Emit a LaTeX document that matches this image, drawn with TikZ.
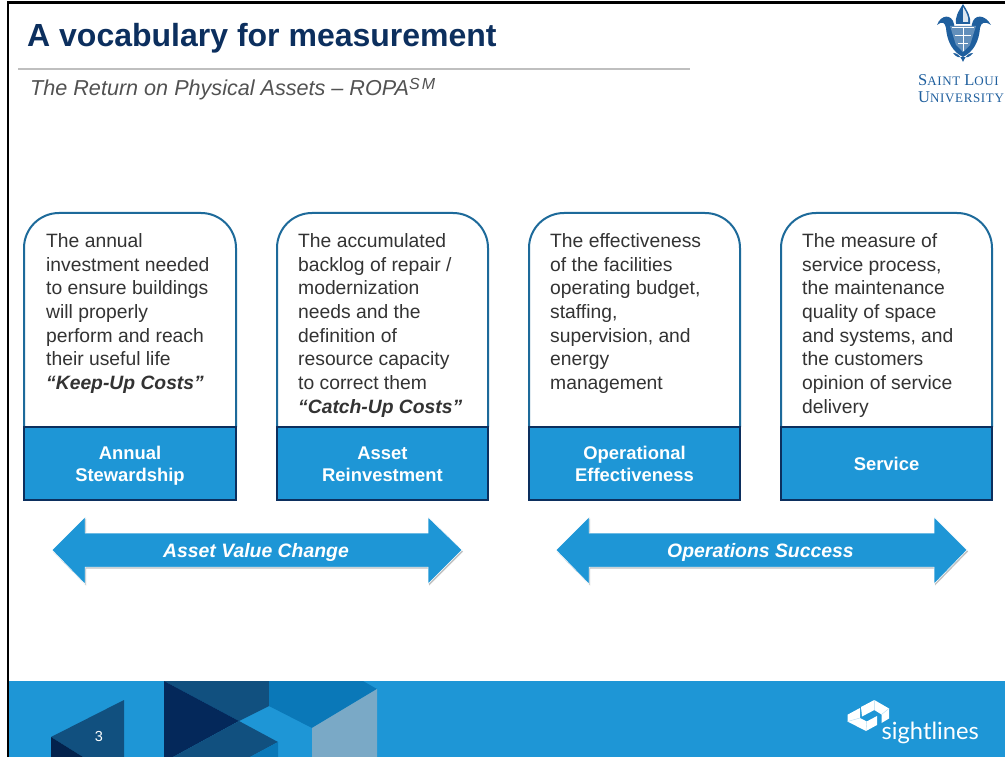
\documentclass[tikz,border=0pt]{standalone}
\usepackage{fontspec}
\usepackage{tikz}
\usetikzlibrary{shadows}
\setmainfont{Liberation Sans}
\newfontfamily\slufont[LetterSpace=5]{Liberation Serif}
\newfontfamily\sightfont{Lato}
\newcommand{\slucap}[1]{{\fontsize{16.5}{16}\selectfont #1}}
\definecolor{bannerblue}{HTML}{1E96D6}
\definecolor{deepnavy}{HTML}{04285A}
\definecolor{midnavy}{HTML}{11507F}
\definecolor{seablue}{HTML}{0A78B8}
\definecolor{paleblue}{HTML}{7AA9C6}
\definecolor{edgeblue}{HTML}{1D6A9A}
\definecolor{titlenavy}{HTML}{0C2F5E}
\definecolor{slublue}{HTML}{1F5F9E}
\definecolor{bodygray}{HTML}{333333}
\tikzset{
    cardtop/.style={draw=edgeblue, line width=2pt, fill=white, rounded corners=35pt},
    cardtext/.style={anchor=north west, inner sep=0pt, align=left, text=bodygray, font=\fontsize{19.3}{23.65}\selectfont},
    cardbox/.style={draw=titlenavy, line width=1.8pt, fill=bannerblue, anchor=north west, outer sep=0pt, minimum width=212pt, minimum height=73pt, inner sep=0pt, align=center, text=white, font=\fontsize{18.4}{22}\selectfont\bfseries},
    bandarrow/.style={fill=bannerblue, draw=white, line width=0.5pt, drop shadow={shadow xshift=1pt, shadow yshift=-1.5pt, fill=gray!60, opacity=0.8}},
    arrowlabel/.style={inner sep=0pt, text=white, font=\fontsize{19.4}{22}\selectfont\bfseries\itshape},
    slulabel/.style={inner sep=0pt, anchor=west, text=slublue, font=\fontsize{13}{16}\slufont},
    crestline/.style={draw=white, line width=0.7pt},
    markfacet/.style={draw=bannerblue!35, line width=0.4pt},
}
\begin{document}
\begin{tikzpicture}[x=1pt,y=-1pt]
    \useasboundingbox (0,0) rectangle (1005,757);
    \fill[white] (0,0) rectangle (1005,757);
    % frame
    \draw[black, line width=2.6pt] (8,757) -- (8,2.5) -- (1005,2.5);
    % heading
    \node[anchor=west, inner sep=0pt, text=titlenavy, font=\fontsize{32}{36}\selectfont\bfseries] (heading) at (27,38) {A vocabulary for measurement};
    \draw[gray!50, line width=1.6pt] (18,69) -- (690,69);
    \node[anchor=west, inner sep=0pt, text=bodygray!85, font=\fontsize{21.6}{24}\selectfont\itshape] (subheading) at (30,89) {The Return on Physical Assets -- ROPA\raisebox{6pt}{\fontsize{16}{16}\selectfont S\kern2pt M}};
    % university crest
    \fill[slublue] (963,4) .. controls (968,12) and (971,17) .. (970,24) -- (956,24) .. controls (955,17) and (958,12) .. (963,4);
    \fill[slublue] (937,25) .. controls (941,14) and (952,14) .. (954,24) .. controls (956,38) and (958,46) .. (963,52) .. controls (968,46) and (970,38) .. (972,24) .. controls (974,14) and (985,14) .. (991,25) .. controls (985,21) and (981,22) .. (980,28) .. controls (979,42) and (973,52) .. (963,57) .. controls (953,52) and (947,42) .. (946,28) .. controls (945,22) and (942,21) .. (937,25);
    \fill[slublue!70] (950,26) -- (976,26) -- (970,45) -- (963,52) -- (956,45) -- cycle;
    \fill[white!85!slublue] (963,7) .. controls (967,13) and (969,18) .. (968,22) -- (963,22) -- cycle;
    \draw[crestline] (952,27) -- (974,27);
    \draw[crestline] (955,35) -- (971,35);
    \draw[crestline] (958,43) -- (968,43);
    \draw[crestline] (963,27) -- (963,51);
    \fill[slublue] (953,53) .. controls (957,53) and (960,55) .. (963,62) .. controls (966,55) and (969,53) .. (973,53) .. controls (969,58) and (966,58) .. (963,57) .. controls (960,58) and (957,58) .. (953,53);
    \node[slulabel] (slutop) at (918,80) {\slucap{S}AINT \slucap{L}OUI};
    \node[slulabel] (slubottom) at (918,97) {\slucap{U}NIVERSITY};
    % cards
    \draw[cardtop] (24,427) -- (24,213) -- (236,213) -- (236,427);
    \draw[cardtop] (277,427) -- (277,213) -- (488,213) -- (488,427);
    \draw[cardtop] (529,427) -- (529,213) -- (740,213) -- (740,427);
    \draw[cardtop] (781,427) -- (781,213) -- (992,213) -- (992,427);
    \node[cardtext] (annualtext) at (46,233.5) {The annual\\investment needed\\to ensure buildings\\will properly\\perform and reach\\their useful life\\\textbf{\textit{``Keep-Up Costs''}}};
    \node[cardtext] (assettext) at (298,233.5) {The accumulated\\backlog of repair /\\modernization\\needs and the\\definition of\\resource capacity\\to correct them\\\textbf{\textit{``Catch-Up Costs''}}};
    \node[cardtext] (operationaltext) at (550,233.5) {The effectiveness\\of the facilities\\operating budget,\\staffing,\\supervision, and\\energy\\management};
    \node[cardtext] (servicetext) at (802,233.5) {The measure of\\service process,\\the maintenance\\quality of space\\and systems, and\\the customers\\opinion of service\\delivery};
    \node[cardbox] (annualbox) at (24,427) {\rule{0pt}{21pt}Annual\\\strut Stewardship};
    \node[cardbox, minimum width=211pt] (assetbox) at (277,427) {\rule{0pt}{21pt}Asset\\\strut Reinvestment};
    \node[cardbox, minimum width=211pt] (operationalbox) at (529,427) {\rule{0pt}{21pt}Operational\\\strut Effectiveness};
    \node[cardbox, minimum width=211pt] (servicebox) at (781,427) {Service};
    % arrows below
    \filldraw[bandarrow] (52,550) -- (85,517) -- (85,533) -- (428,533) -- (428,517) -- (462,550) -- (428,584) -- (428,567) -- (85,567) -- (85,584) -- cycle;
    \filldraw[bandarrow] (556,550) -- (589,517) -- (589,533) -- (934,533) -- (934,517) -- (967,550) -- (934,584) -- (934,567) -- (589,567) -- (589,584) -- cycle;
    \node[arrowlabel] (valuelabel) at (256,552) {Asset Value Change};
    \node[arrowlabel] (successlabel) at (760.5,552.5) {Operations Success};
    % footer band
    \fill[bannerblue] (9.3,681) rectangle (1005,757);
    \fill[midnavy] (124,700) -- (51,737) -- (83,757) -- (124,757) -- cycle;
    \fill[deepnavy!85!black] (51,737) -- (83,757) -- (51,757) -- cycle;
    \fill[midnavy] (164,681) -- (269,681) -- (269,706) -- (239,721) -- cycle;
    \fill[deepnavy] (164,681) -- (239,721) -- (173,757) -- (164,757) -- cycle;
    \fill[midnavy] (239,721) -- (278,742) -- (250,757) -- (173,757) -- cycle;
    \fill[seablue] (278,742) -- (278,757) -- (250,757) -- cycle;
    \fill[seablue] (269,681) -- (363,681) -- (377,689) -- (312,728) -- (269,706) -- cycle;
    \fill[paleblue] (377,689) -- (377,757) -- (312,757) -- (312,728) -- cycle;
    \node[inner sep=0pt, text=white, font=\fontsize{14.5}{16}\selectfont] (pagenumber) at (99,737) {3};
    % sightlines mark
    \fill[white] (861,707) -- (874.3,700) -- (889,708.5) -- (889,718.5) -- (881.5,723) -- (881.5,714.5) -- (874.3,710) -- (862,716.5) -- cycle;
    \fill[white] (847.5,714.7) -- (860,708) -- (860,718) -- (866.7,721.5) -- (877,716) -- (877,725) -- (866,731) -- (847.5,721.5) -- cycle;
    \draw[markfacet] (874.3,700) -- (874.3,710) (881.5,714.5) -- (889,708.5) (860,718) -- (847.5,721.5) (866.7,721.5) -- (866,731);
    \node[anchor=west, inner sep=0pt, text=white, font=\fontsize{23.7}{28}\sightfont] (sightlabel) at (881.5,733) {sightlines};
\end{tikzpicture}
\end{document}
